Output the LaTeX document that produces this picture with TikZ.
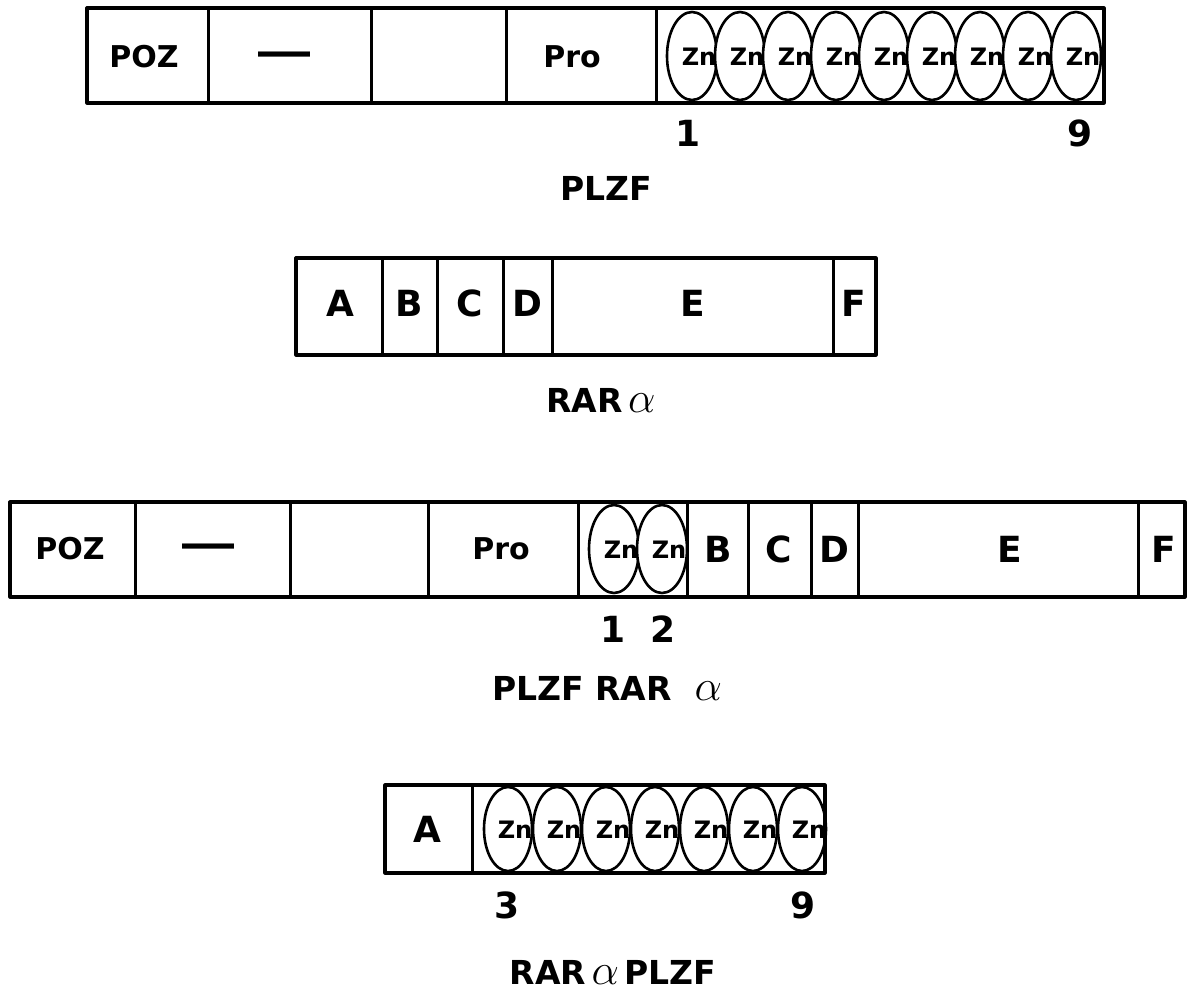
\documentclass[tikz,border=0pt]{standalone}
\usepackage{fontspec}
\setmainfont{DejaVu Sans}
\newfontfamily\dashfont{Liberation Sans}
\usetikzlibrary{shapes.geometric}
\tikzset{
  frame/.style={draw, line width=3.2pt, line join=round},
  divider/.style={draw, line width=3pt},
  znell/.style={ellipse, draw, fill=white, line width=2.6pt, inner sep=0pt},
  zntxt/.style={inner sep=0pt, font=\fontsize{24}{24}\selectfont\bfseries},
  lab/.style={inner sep=0pt, font=\fontsize{30}{30}\selectfont\bfseries},
  biglab/.style={inner sep=0pt, font=\fontsize{36}{36}\selectfont\bfseries},
  num/.style={inner sep=0pt, font=\fontsize{36}{36}\selectfont\bfseries},
  title/.style={inner sep=0pt, font=\fontsize{33}{33}\selectfont\bfseries},
  dashlab/.style={inner sep=0pt, font=\dashfont\fontsize{52}{52}\selectfont\bfseries}
}
\newcommand{\alf}{\scalebox{1.75}{$\alpha$}}
\begin{document}
\begin{tikzpicture}[x=1pt,y=-1pt]
\useasboundingbox (0,0) rectangle (1189,996);

% ---------------- Bar 1: PLZF ----------------
\foreach \i in {0,...,8}{
  \node[znell, minimum width=50pt, minimum height=88pt] (a\i) at ({692+48*\i},56) {};
  \node[zntxt] (at\i) at ({699+48*\i},57) {Zn};
}
\draw[frame] (87,8) rectangle (1104,103);
\draw[divider] (208,8) -- (208,103);
\draw[divider] (371,8) -- (371,103);
\draw[divider] (506,8) -- (506,103);
\draw[divider] (656,8) -- (656,103);
\node[lab] (poz1) at (144,57) {POZ};
\node[dashlab] (dash1) at (284,60) {—};
\node[lab] (pro1) at (572,57) {Pro};
\node[num] (n1a) at (688,133) {1};
\node[num] (n1b) at (1080,133) {9};
\node[title] (t1) at (606,188) {PLZF};

% ---------------- Bar 2: RAR alpha ----------------
\draw[frame] (296,258) rectangle (876,355);
\foreach \x in {382,437,503,552,833}{ \draw[divider] (\x,258) -- (\x,355); }
\node[biglab] (bA) at (340,303) {A};
\node[biglab] (bB) at (409,303) {B};
\node[biglab] (bC) at (470,303) {C};
\node[biglab] (bD) at (527,303) {D};
\node[biglab] (bE) at (693,303) {E};
\node[biglab] (bF) at (854,303) {F};
\node[title] (t2) at (601,400) {RAR\,\alf};

% ---------------- Bar 3: PLZF RAR alpha ----------------
\node[znell, minimum width=50pt, minimum height=88pt] (c0) at (614,549) {};
\node[zntxt] (ct0) at (621,550) {Zn};
\node[znell, minimum width=50pt, minimum height=88pt] (c1) at (662,549) {};
\node[zntxt] (ct1) at (669,550) {Zn};
\draw[frame] (10,502) rectangle (1185,597);
\foreach \x in {135,290,428,578,687,748,811,858,1138}{ \draw[divider] (\x,502) -- (\x,597); }
\node[lab] (poz3) at (70,549) {POZ};
\node[dashlab] (dash3) at (208,552) {—};
\node[lab] (pro3) at (501,549) {Pro};
\node[biglab] (cB) at (718,549) {B};
\node[biglab] (cC) at (779,549) {C};
\node[biglab] (cD) at (834,549) {D};
\node[biglab] (cE) at (1010,549) {E};
\node[biglab] (cF) at (1164,549) {F};
\node[num] (n3a) at (613,629) {1};
\node[num] (n3b) at (663,629) {2};
\node[title] (t3) at (607,688) {PLZF RAR\ \ \alf};

% ---------------- Bar 4: RAR alpha PLZF ----------------
\foreach \i in {0,...,6}{
  \node[znell, minimum width=48pt, minimum height=84pt] (d\i) at ({508+49*\i},829) {};
  \node[zntxt] (dt\i) at ({515+49*\i},830) {Zn};
}
\draw[frame] (385,785) rectangle (825,873);
\draw[divider] (472,785) -- (472,873);
\node[biglab] (dA) at (427,829) {A};
\node[num] (n4a) at (507,905) {3};
\node[num] (n4b) at (803,905) {9};
\node[title] (t4) at (613,972) {RAR\,\alf\,PLZF};
\end{tikzpicture}
\end{document}
